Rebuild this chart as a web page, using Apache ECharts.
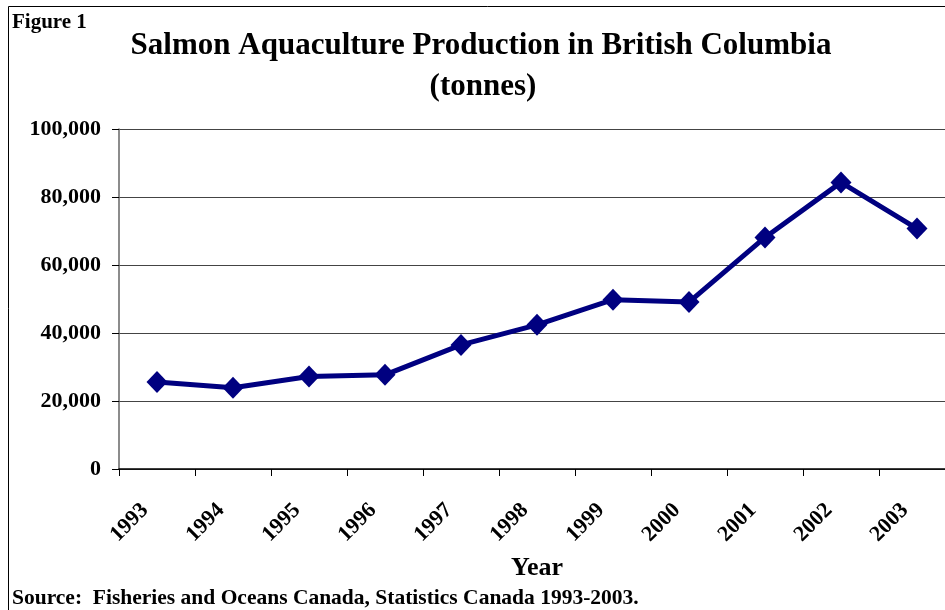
<!DOCTYPE html>
<html><head><meta charset="utf-8">
<script src="https://cdn.jsdelivr.net/npm/echarts@6/dist/echarts.min.js"></script>
<style>html,body{margin:0;padding:0;background:#fff;overflow:hidden;width:945px;height:610px}#c{width:965px;height:610px}</style>
</head><body><div id="c"></div>
<script>
const years = ['1993','1994','1995','1996','1997','1998','1999','2000','2001','2002','2003'];
const production = [25600, 23900, 27200, 27700, 36500, 42400, 49800, 49100, 68100, 84300, 70700];
const yTicks = {min: 0, max: 100000, interval: 20000};
const titleText = 'Salmon Aquaculture Production in British Columbia';
const subtitleText = '(tonnes)';
const figureLabel = 'Figure 1';
const xName = 'Year';
const sourceText = 'Source:  Fisheries and Oceans Canada, Statistics Canada 1993-2003.';

const F = '"Liberation Serif", "Times New Roman", serif';
const chart = echarts.init(document.getElementById('c'), null, {renderer: 'canvas'});
chart.setOption({
  animation: false,
  backgroundColor: '#fff',
  grid: {left: 119, right: 10, top: 129, bottom: 141, containLabel: false},
  graphic: [
    {type: 'rect', shape: {x: 8.5, y: 6.5, width: 1000, height: 700}, style: {fill: 'none', stroke: '#000', lineWidth: 1}, silent: true},
    {type: 'text', x: 12, y: 23, style: {text: figureLabel, font: 'bold 21px ' + F, fill: '#000', textAlign: 'left', textVerticalAlign: 'middle'}},
    {type: 'text', x: 481, y: 46, style: {text: titleText, font: 'bold 31px ' + F, fill: '#000', textAlign: 'center', textVerticalAlign: 'middle'}},
    {type: 'text', x: 483, y: 87, style: {text: subtitleText, font: 'bold 31px ' + F, fill: '#000', textAlign: 'center', textVerticalAlign: 'middle'}},
    {type: 'text', x: 537, y: 568, style: {text: xName, font: 'bold 26px ' + F, fill: '#000', textAlign: 'center', textVerticalAlign: 'middle'}},
    {type: 'text', x: 12, y: 598, style: {text: sourceText, font: 'bold 21.5px ' + F, fill: '#000', textAlign: 'left', textVerticalAlign: 'middle'}}
  ],
  xAxis: {
    type: 'category', data: years, boundaryGap: true,
    axisLine: {lineStyle: {color: '#000', width: 1.5}},
    axisTick: {show: true, length: 7, lineStyle: {color: '#000'}},
    axisLabel: {rotate: 45, margin: 26, padding: [0, 17, 0, 0], color: '#000', fontFamily: F, fontWeight: 'bold', fontSize: 22, interval: 0},
    splitLine: {show: false}
  },
  yAxis: {
    type: 'value', min: yTicks.min, max: yTicks.max, interval: yTicks.interval,
    axisLine: {show: true, lineStyle: {color: '#666', width: 1.5}},
    axisTick: {show: true, length: 7, lineStyle: {color: '#000'}},
    axisLabel: {margin: 18, color: '#000', fontFamily: F, fontWeight: 'bold', fontSize: 22,
      formatter: v => v.toLocaleString('en-US')},
    splitLine: {show: true, lineStyle: {color: '#444', width: 1}}
  },
  series: [{
    type: 'line', data: production,
    lineStyle: {color: '#000080', width: 5},
    itemStyle: {color: '#000080'},
    symbol: 'diamond', symbolSize: [21, 22], showSymbol: true
  }]
});
</script></body></html>
